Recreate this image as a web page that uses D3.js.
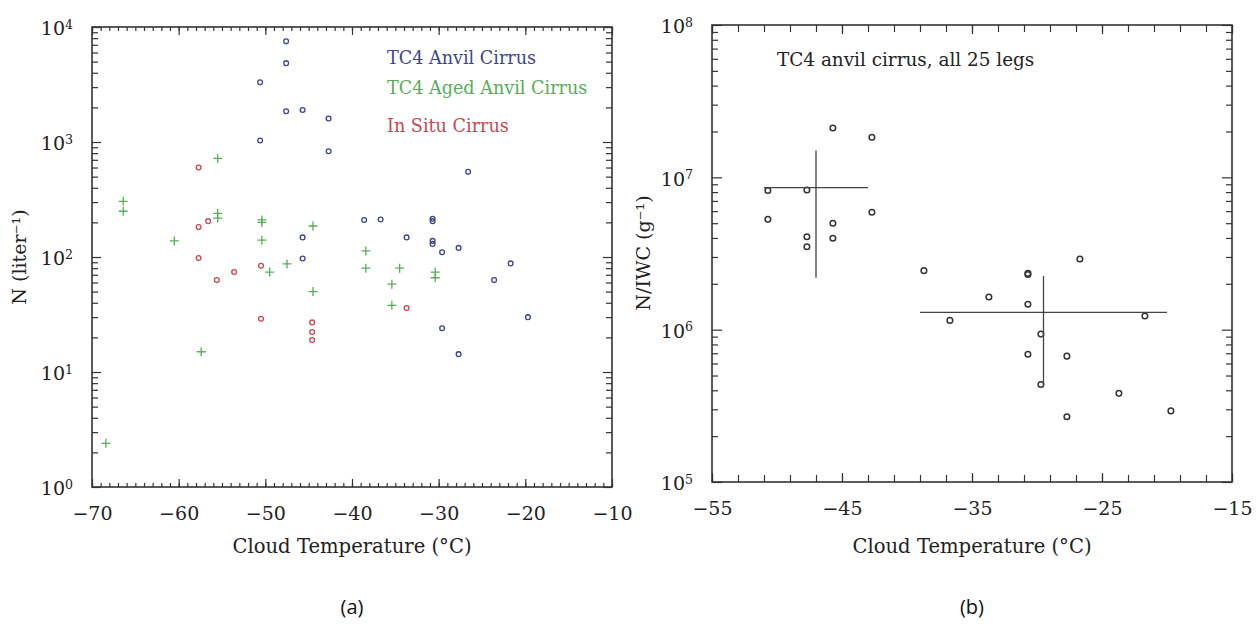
<!DOCTYPE html>
<html>
<head>
<meta charset="utf-8">
<script src="https://cdn.jsdelivr.net/npm/d3@7"></script>
<style>
  html, body { margin: 0; padding: 0; background: #fff; }
</style>
</head>
<body>
<svg id="chart" width="1260" height="632"></svg>
<script>
// ---- Panel (a): particle concentration vs temperature ----
const anvilT = [-47.6, -47.6, -50.6, -47.6, -45.7, -42.7, -42.7, -50.6, -45.7, -45.7, -38.6, -36.7, -30.7, -30.7, -30.7, -30.7, -29.6, -33.7, -27.7, -26.6, -21.7, -23.6, -29.6, -27.7, -19.7];
const anvilN = [7500, 4850, 3300, 1850, 1900, 1600, 830, 1030, 148, 97, 210, 212, 215, 205, 138, 130, 110, 148, 120, 550, 88, 63, 24, 14.3, 30];

const agedT = [-66.4, -66.4, -60.5, -55.5, -55.5, -55.5, -50.4, -50.4, -50.4, -49.5, -47.5, -44.5, -44.5, -38.4, -38.4, -34.5, -35.4, -35.4, -30.4, -30.4, -57.4, -68.4];
const agedN = [305, 250, 138, 720, 240, 218, 210, 200, 140, 74, 87, 186, 50, 113, 80, 80, 58, 38, 74, 66, 15, 2.4];

const insituT = [-57.7, -57.7, -56.6, -57.7, -55.6, -53.6, -50.5, -50.5, -44.6, -44.6, -44.6, -33.7];
const insituN = [600, 182, 205, 98, 63, 74, 84, 29, 27, 22.3, 19, 36];

const legendA = ["TC4 Anvil Cirrus", "TC4 Aged Anvil Cirrus", "In Situ Cirrus"];
const xTicksA = [-70, -60, -50, -40, -30, -20, -10];
const yExpA = [0, 1, 2, 3, 4];

// ---- Panel (b): N/IWC vs temperature ----
const legT = [-50.7, -50.7, -47.7, -47.7, -47.7, -45.7, -45.7, -45.7, -42.7, -42.7, -38.7, -26.7, -30.7, -30.7, -33.7, -36.7, -30.7, -21.7, -29.7, -30.7, -27.7, -29.7, -23.7, -27.7, -19.7];
const legRatio = [8.2e6, 5.3e6, 8.25e6, 4.07e6, 3.5e6, 2.11e7, 5.0e6, 3.98e6, 1.83e7, 5.9e6, 2.44e6, 2.91e6, 2.34e6, 2.30e6, 1.64e6, 1.15e6, 1.47e6, 1.23e6, 9.35e5, 6.9e5, 6.7e5, 4.37e5, 3.82e5, 2.68e5, 2.93e5];

// group summaries: centre and extent in both directions
const groupT = [-47, -29.5];
const groupTmin = [-51, -39];
const groupTmax = [-43, -20];
const groupR = [8.55e6, 1.30e6];
const groupRmin = [2.19e6, 4.33e5];
const groupRmax = [1.5e7, 2.25e6];

const xTicksB = [-55, -45, -35, -25, -15];
const yExpB = [5, 6, 7, 8];

const SERIF = "'DejaVu Serif', 'Liberation Serif', serif";
const svg = d3.select("#chart");
const axisColor = "#333";
const textColor = "#222";
const colors = { anvil: "#3c4590", aged: "#58ad58", insitu: "#c9474f" };

function minorLog(lo, hi) {
  const out = [];
  for (let e = lo; e < hi; e++) for (let m = 2; m <= 9; m++) out.push(m * Math.pow(10, e));
  return out;
}

function powLabel(sel, expOf) {
  sel.text(null);
  sel.append("tspan").text("10");
  sel.append("tspan").attr("dy", "-0.55em").style("font-size", "0.66em").text(d => expOf(d));
}

function framePanel(g, x, y, opts) {
  const [x0, x1] = x.range();
  const [y1, y0] = y.range();
  const w = x1 - x0, h = y1 - y0;

  const minorX = d3.range(opts.xDomain[0], opts.xDomain[1] + 0.001, opts.xMinorStep);
  const minorY = minorLog(opts.yExp[0], opts.yExp[opts.yExp.length - 1]);

  const mk = (axis, tr) => g.append("g").attr("transform", tr).call(axis)
    .call(s => s.select(".domain").remove())
    .call(s => s.selectAll("line").attr("stroke", axisColor).attr("stroke-width", 1.2));

  // inward minor ticks on all four sides
  mk(d3.axisBottom(x).tickValues(minorX).tickSize(-opts.minorLen).tickFormat(""), `translate(0,${y1})`);
  mk(d3.axisTop(x).tickValues(minorX).tickSize(-opts.minorLen).tickFormat(""), `translate(0,${y0})`);
  mk(d3.axisLeft(y).tickValues(minorY).tickSize(-opts.minorLenY).tickFormat(""), `translate(${x0},0)`);
  mk(d3.axisRight(y).tickValues(minorY).tickSize(-opts.minorLenY).tickFormat(""), `translate(${x1},0)`);

  // major ticks with labels
  const bx = mk(d3.axisBottom(x).tickValues(opts.xTicks).tickSize(-opts.majorLen).tickPadding(20)
      .tickFormat(d => d3.format("d")(d).replace("-", "\u2212")), `translate(0,${y1})`);
  bx.selectAll("text").style("font-size", "19px").style("font-family", SERIF).style("fill", textColor);
  mk(d3.axisTop(x).tickValues(opts.xTicks).tickSize(-opts.majorLen).tickFormat(""), `translate(0,${y0})`);

  const yv = opts.yExp.map(e => Math.pow(10, e));
  const ly = mk(d3.axisLeft(y).tickValues(yv).tickSize(-opts.majorLenY).tickPadding(19), `translate(${x0},0)`);
  ly.selectAll("text").style("font-size", "19px").style("font-family", SERIF).style("fill", textColor)
    .attr("dy", "0.42em")
    .call(powLabel, d => Math.round(Math.log10(d)));
  mk(d3.axisRight(y).tickValues(yv).tickSize(-opts.majorLenY).tickFormat(""), `translate(${x1},0)`);

  g.append("rect").attr("x", x0).attr("y", y0).attr("width", w).attr("height", h)
    .attr("fill", "none").attr("stroke", axisColor).attr("stroke-width", 1.6);
}

function label(g, x, y, txt, size, opts = {}) {
  const t = g.append("text").attr("x", x).attr("y", y).text(txt)
    .style("font-family", opts.family || SERIF).style("font-size", size + "px")
    .style("fill", opts.color || textColor);
  if (opts.anchor) t.attr("text-anchor", opts.anchor);
  if (opts.rotate) t.attr("x", 0).attr("y", 0).attr("transform", `translate(${x},${y}) rotate(-90)`);
  return t;
}

// ---------- panel (a) ----------
const xA = d3.scaleLinear().domain([-70, -10]).range([92, 612]);
const yA = d3.scaleLog().domain([1, 1e4]).range([487, 27]);
const gA = svg.append("g");
framePanel(gA, xA, yA, { xDomain: [-70, -10], xMinorStep: 1, xTicks: xTicksA, yExp: yExpA,
  minorLen: 4, majorLen: 8, minorLenY: 6, majorLenY: 9 });

function circles(g, xs, ys, T, V, color, r, sw) {
  g.append("g").selectAll("circle").data(T.map((t, i) => [t, V[i]])).join("circle")
    .attr("cx", d => xs(d[0])).attr("cy", d => ys(d[1])).attr("r", r)
    .attr("fill", "none").attr("stroke", color).attr("stroke-width", sw);
}

circles(gA, xA, yA, anvilT, anvilN, colors.anvil, 2.4, 1.3);
circles(gA, xA, yA, insituT, insituN, colors.insitu, 2.4, 1.3);
gA.append("g").selectAll("path").data(agedT.map((t, i) => [t, agedN[i]])).join("path")
  .attr("d", d => { const cx = xA(d[0]), cy = yA(d[1]), s = 4.5;
    return `M${cx - s},${cy}H${cx + s}M${cx},${cy - s}V${cy + s}`; })
  .attr("stroke", colors.aged).attr("stroke-width", 1.3).attr("fill", "none");

const legColors = [colors.anvil, colors.aged, colors.insitu];
const legY = [64, 94, 132];
legendA.forEach((d, i) => label(gA, 387, legY[i], d, 17.6, { color: legColors[i] }));

label(gA, 352, 553, "Cloud Temperature (\u00B0C)", 19.6, { anchor: "middle" });
label(gA, 26, 257, "N (liter\u207B\u00B9)", 19, { anchor: "middle", rotate: true });

// ---------- panel (b) ----------
const xB = d3.scaleLinear().domain([-55, -15]).range([712, 1232]);
const yB = d3.scaleLog().domain([1e5, 1e8]).range([482, 25]);
const gB = svg.append("g");
framePanel(gB, xB, yB, { xDomain: [-55, -15], xMinorStep: 2, xTicks: xTicksB, yExp: yExpB,
  minorLen: 7, majorLen: 9, minorLenY: 6, majorLenY: 10 });

circles(gB, xB, yB, legT, legRatio, "#333", 2.8, 1.5);

const gs = gB.append("g").attr("stroke", "#444").attr("stroke-width", 1.3);
groupT.forEach((t, i) => {
  gs.append("line").attr("x1", xB(groupTmin[i])).attr("x2", xB(groupTmax[i]))
    .attr("y1", yB(groupR[i])).attr("y2", yB(groupR[i]));
  gs.append("line").attr("x1", xB(t)).attr("x2", xB(t))
    .attr("y1", yB(groupRmin[i])).attr("y2", yB(groupRmax[i]));
});

label(gB, 777, 66, "TC4 anvil cirrus, all 25 legs", 18.4);
label(gB, 972, 553, "Cloud Temperature (\u00B0C)", 19.6, { anchor: "middle" });
label(gB, 650, 253, "N/IWC (g\u207B\u00B9)", 19, { anchor: "middle", rotate: true });

// panel captions
const SANS = "'Open Sans', 'Noto Sans', sans-serif";
label(svg, 352, 614, "(a)", 20, { anchor: "middle", family: SANS, color: "#111" });
label(svg, 972, 614, "(b)", 20, { anchor: "middle", family: SANS, color: "#111" });
</script>
</body>
</html>
